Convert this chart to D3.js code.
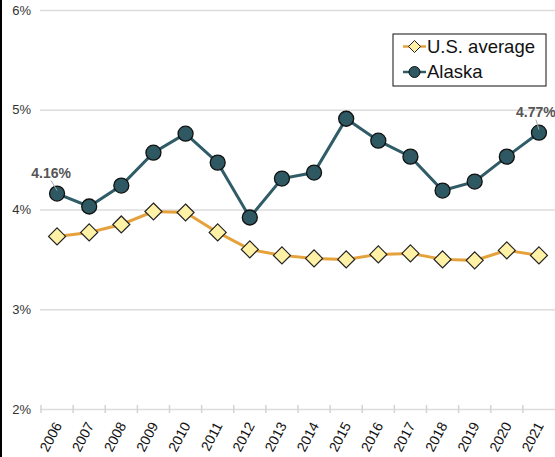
<!DOCTYPE html>
<html>
<head>
<meta charset="utf-8">
<script src="https://cdn.jsdelivr.net/npm/d3@7"></script>
<style>
  body { margin: 0; background: #fff; }
  svg { display: block; font-family: "Liberation Sans", Arial, Helvetica, sans-serif; }
</style>
</head>
<body>
<div class="chart"></div>
<script>
var years = [2006, 2007, 2008, 2009, 2010, 2011, 2012, 2013, 2014, 2015, 2016, 2017, 2018, 2019, 2020, 2021];
var usAverage = [3.73, 3.77, 3.85, 3.98, 3.97, 3.77, 3.60, 3.54, 3.51, 3.50, 3.55, 3.56, 3.50, 3.49, 3.59, 3.54];
var alaska = [4.16, 4.03, 4.24, 4.57, 4.76, 4.47, 3.92, 4.31, 4.37, 4.91, 4.69, 4.53, 4.19, 4.28, 4.53, 4.77];
var yTicks = [2, 3, 4, 5, 6];
var seriesNames = ["U.S. average", "Alaska"];

var width = 555, height = 457;

var svg = d3.select(".chart").append("svg")
  .attr("width", width).attr("height", height);

//band scale, points sit in the middle of each band
var x = d3.scaleBand().domain(years).range([41, 555]);
var y = d3.scaleLinear().domain([2, 6]).range([409, 10]);
var cx = function(d, i) { return x(years[i]) + x.bandwidth() / 2; };

//left frame line
svg.append("line").attr("x1", 1).attr("x2", 1).attr("y1", 0).attr("y2", height)
  .attr("stroke", "#000").attr("stroke-width", 2);

//gridlines + y labels
var yAxis = d3.axisLeft(y).tickValues(yTicks).tickSize(-(555 - 40))
  .tickFormat(function(d) { return d + "%"; });
var yg = svg.append("g").attr("transform", "translate(40,0)").call(yAxis);
yg.select(".domain").remove();
yg.selectAll(".tick line").attr("stroke", "#dcdcdc").attr("stroke-width", 1.5);
yg.selectAll(".tick text").attr("x", -9).attr("fill", "#333").style("font-size", "13px");

//x axis: ticks on band edges, labels rotated under the points
var xg = svg.append("g").attr("transform", "translate(0," + y(2) + ")");
xg.selectAll("line").data(years).enter().append("line")
  .attr("x1", function(d) { return x(d); }).attr("x2", function(d) { return x(d); })
  .attr("y1", -4).attr("y2", 4)
  .attr("stroke", "#d4d4d4").attr("stroke-width", 1.5);
xg.selectAll("text").data(years).enter().append("text")
  .attr("transform", function(d) {
    return "translate(" + (x(d) + x.bandwidth() / 2 + 1) + ",14) rotate(-62)";
  })
  .attr("text-anchor", "end")
  .attr("dy", "0.35em")
  .attr("fill", "#111")
  .style("font-size", "14px")
  .text(function(d) { return d; });

var line = d3.line().x(cx).y(function(d) { return y(d); });

//U.S. average
svg.append("path").datum(usAverage).attr("d", line)
  .attr("fill", "none").attr("stroke", "#e5a23c").attr("stroke-width", 3);
svg.selectAll(".dia").data(usAverage).enter().append("path")
  .attr("class", "dia")
  .attr("d", "M0,-8.5L8.5,0L0,8.5L-8.5,0Z")
  .attr("transform", function(d, i) { return "translate(" + cx(d, i) + "," + y(d) + ")"; })
  .attr("fill", "#fff2a6").attr("stroke", "#222").attr("stroke-width", 1.2);

//Alaska
svg.append("path").datum(alaska).attr("d", line)
  .attr("fill", "none").attr("stroke", "#2f5c66").attr("stroke-width", 3);
svg.selectAll(".dot").data(alaska).enter().append("circle")
  .attr("class", "dot")
  .attr("cx", cx).attr("cy", function(d) { return y(d); })
  .attr("r", 7.5)
  .attr("fill", "#2e5962").attr("stroke", "#111").attr("stroke-width", 1.3);

//value labels on first and last Alaska points
var ends = [0, alaska.length - 1];
ends.forEach(function(i) {
  var px = cx(alaska[i], i), py = y(alaska[i]);
  var lx = i === 0 ? px - 6 : px - 3;
  svg.append("line")
    .attr("x1", lx).attr("y1", py - 13).attr("x2", px).attr("y2", py - 3)
    .attr("stroke", "#aaa").attr("stroke-width", 1);
  svg.append("text")
    .attr("x", lx).attr("y", py - 16)
    .attr("text-anchor", "middle")
    .attr("fill", "#555").style("font-size", "14px").style("font-weight", "bold")
    .text(alaska[i].toFixed(2) + "%");
});

//legend
var lg = svg.append("g").attr("transform", "translate(393,34)");
lg.append("rect").attr("width", 153).attr("height", 52)
  .attr("fill", "#fff").attr("stroke", "#111").attr("stroke-width", 1);
var rows = lg.selectAll(".row").data(seriesNames).enter().append("g")
  .attr("transform", function(d, i) { return "translate(0," + (12.5 + i * 25.5) + ")"; });
rows.append("line").attr("x1", 10).attr("x2", 33).attr("y1", 0).attr("y2", 0)
  .attr("stroke", function(d, i) { return i === 0 ? "#e5a23c" : "#2f5c66"; })
  .attr("stroke-width", 2.5);
rows.each(function(d, i) {
  var g = d3.select(this);
  if (i === 0) {
    g.append("path").attr("d", "M21.5,-6L27.5,0L21.5,6L15.5,0Z")
      .attr("fill", "#fff2a6").attr("stroke", "#222").attr("stroke-width", 1);
  } else {
    g.append("circle").attr("cx", 21.5).attr("cy", 0).attr("r", 5.5)
      .attr("fill", "#2e5962").attr("stroke", "#111").attr("stroke-width", 1);
  }
});
rows.append("text").attr("x", 34).attr("y", 0).attr("dy", "0.35em")
  .attr("fill", "#111").style("font-size", "18.5px")
  .text(function(d) { return d; });
</script>
</body>
</html>
